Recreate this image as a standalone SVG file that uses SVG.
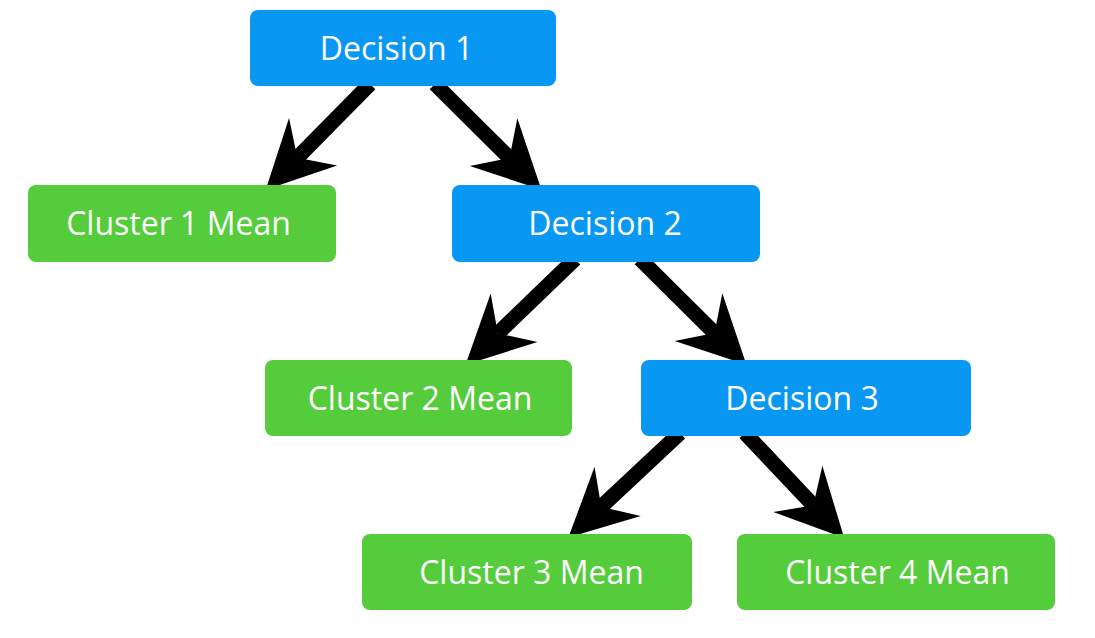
<svg xmlns="http://www.w3.org/2000/svg" width="1095" height="638" viewBox="0 0 1095 638">
<style>
.dec{fill:#0897f2}
.clu{fill:#55cc3c}
.lbl{font-family:"Open Sans","Noto Sans",sans-serif;font-size:32px;fill:#ffffff;text-anchor:middle}
.arr{stroke:#000;stroke-width:15;fill:none;marker-end:url(#head)}
</style>
<defs>
<marker id="head" markerUnits="userSpaceOnUse" orient="auto" refX="0" refY="0" markerWidth="100" markerHeight="100" viewBox="-30 -40 80 80" overflow="visible">
<path d="M36,0 L-18,-27 L0,0 L-18,27 Z" fill="#000"/>
</marker>
</defs>
<rect width="1095" height="638" fill="#ffffff"/>
<g id="connectors">
<path class="arr" d="M370,84 L297.3,157.8"/>
<path class="arr" d="M435,84 L509.5,158"/>
<path class="arr" d="M575,259 L497.9,333.4"/>
<path class="arr" d="M640,259 L714.5,333"/>
<path class="arr" d="M680,433 L601.2,506.8"/>
<path class="arr" d="M745,433 L813.3,505.3"/>
</g>
<g id="decision1"><rect class="dec" x="250" y="10" width="306" height="76" rx="8"/><text class="lbl" x="396.5" y="60">Decision 1</text></g>
<g id="cluster1"><rect class="clu" x="28" y="185" width="308" height="77" rx="8"/><text class="lbl" x="178.5" y="235">Cluster 1 Mean</text></g>
<g id="decision2"><rect class="dec" x="452" y="185" width="308" height="77" rx="8"/><text class="lbl" x="605" y="235">Decision 2</text></g>
<g id="cluster2"><rect class="clu" x="265" y="360" width="307" height="76" rx="8"/><text class="lbl" x="420" y="410">Cluster 2 Mean</text></g>
<g id="decision3"><rect class="dec" x="641" y="360" width="330" height="76" rx="8"/><text class="lbl" x="802" y="410">Decision 3</text></g>
<g id="cluster3"><rect class="clu" x="362" y="534" width="330" height="76" rx="8"/><text class="lbl" x="531.5" y="584">Cluster 3 Mean</text></g>
<g id="cluster4"><rect class="clu" x="737" y="534" width="318" height="76" rx="8"/><text class="lbl" x="897.5" y="584">Cluster 4 Mean</text></g>
</svg>
